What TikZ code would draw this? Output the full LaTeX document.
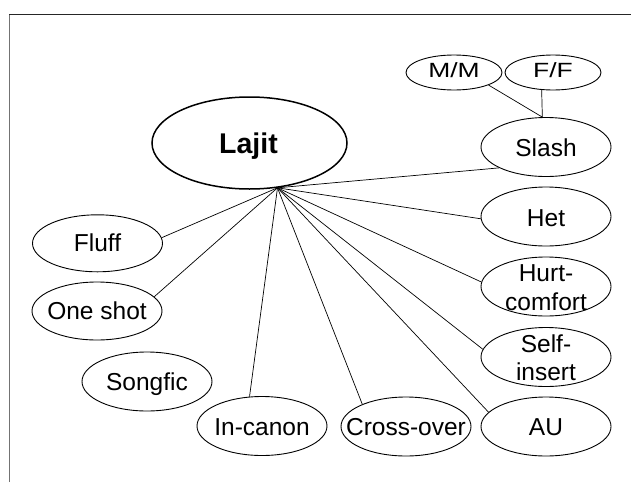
\documentclass[tikz,border=0pt]{standalone}
\usepackage{graphicx}
\usepackage{fontspec}
\setmainfont{Liberation Sans}
\usetikzlibrary{shapes.geometric}
\begin{document}
\begin{tikzpicture}[x=1pt,y=-1pt,
  pill/.style={ellipse, draw, line width=0.9pt, minimum width=130pt, minimum height=59pt, inner sep=0pt},
  smallpill/.style={pill, minimum width=96pt, minimum height=35pt},
  tag/.style={anchor=base, inner sep=0pt, font=\fontsize{24.5}{28.5}\selectfont},
  tagpair/.style={tag, align=center},
  link/.style={line width=0.7pt}]
\useasboundingbox (0,0) rectangle (631,482);

% page frame
\draw[black!55, line width=1.3pt] (9.3,482) -- (9.3,14.3);
\draw[black!85, line width=1pt] (9.3,14.3) -- (631,14.3);

% central category
\node[pill, line width=1.5pt, minimum width=195pt, minimum height=92pt] (lajit) at (249.5,143) {};
\node[tag, font=\fontsize{28.5}{32}\selectfont\bfseries] (lajit-t) at (248.5,153.3) {Lajit};
\coordinate (hub) at (lajit.-58);

% slash and its sub-types
\node[smallpill] (mm) at (454,72.5) {};
\node[tag] (mm-t) at (454,77.7) {\scalebox{1.08}[0.84]{M/M}};
\node[smallpill] (ff) at (553,72.5) {};
\node[tag] (ff-t) at (553,77.7) {\scalebox{1.08}[0.84]{F/F}};
\node[pill] (slash) at (546,147) {};
\node[tag] (slash-t) at (546,156) {Slash};

% right column
\node[pill] (het) at (546,216.5) {};
\node[tag] (het-t) at (546,226) {Het};
\node[pill] (hurt) at (546,286.5) {};
\node[tagpair] (hurt-t) at (546,310) {Hurt-\\comfort};
\node[pill] (self) at (546,357) {};
\node[tagpair] (self-t) at (546,380.5) {Self-\\insert};
\node[pill] (au) at (546,426.5) {};
\node[tag] (au-t) at (546,435.5) {AU};

% bottom row
\node[pill] (cross) at (406,426.5) {};
\node[tag] (cross-t) at (406,435.5) {Cross-over};
\node[pill] (incanon) at (262,426) {};
\node[tag] (incanon-t) at (262,435) {In-canon};

% left column
\node[pill, minimum height=57pt] (fluff) at (97.5,243.3) {};
\node[tag] (fluff-t) at (97.5,251) {Fluff};
\node[pill, minimum height=58pt] (oneshot) at (97,311) {};
\node[tag] (oneshot-t) at (97,319.5) {One shot};
\node[pill] (songfic) at (147,381.5) {};
\node[tag] (songfic-t) at (147,390) {Songfic};

% connectors
\draw[link] (mm.-20) -- (slash.97);
\draw[link] (ff.237) -- (slash.97);
\draw[link] (hub) -- (slash.204);
\draw[link] (hub) -- (het.182);
\draw[link] (hub) -- (hurt.176);
\draw[link] (hub) -- (self.173);
\draw[link] (hub) -- (au.166);
\draw[link] (hub) -- (cross.153);
\draw[link] (hub) -- (incanon.113);
\draw[link] (hub) -- (oneshot.14);
\draw[link] (hub) -- (fluff.5);
\end{tikzpicture}
\end{document}
